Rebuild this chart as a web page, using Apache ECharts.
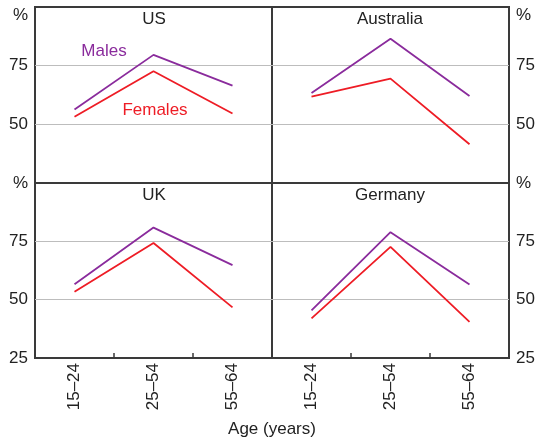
<!DOCTYPE html>
<html>
<head>
<meta charset="utf-8">
<script src="https://cdn.jsdelivr.net/npm/echarts@6/dist/echarts.min.js"></script>
<style>
  html, body { margin: 0; padding: 0; background: #fff; }
  #chart { width: 544px; height: 441px; }
</style>
</head>
<body>
<div id="chart"></div>
<script>
// age groups on the x axis
const categories = ['15–24', '25–54', '55–64']
const yTicks = [25, 50, 75, 100]

// participation rates, per cent
const usMales = [56.3, 79.6, 66.5]
const usFemales = [53.2, 72.6, 54.6]
const auMales = [63.4, 86.5, 62.1]
const auFemales = [61.8, 69.5, 41.5]
const ukMales = [56.6, 80.9, 64.8]
const ukFemales = [53.4, 74.3, 46.7]
const deMales = [45.4, 78.9, 56.5]
const deFemales = [42.0, 72.6, 40.5]

const panels = [
  { name: 'US', males: usMales, females: usFemales, side: 'left', top: true },
  { name: 'Australia', males: auMales, females: auFemales, side: 'right', top: true },
  { name: 'UK', males: ukMales, females: ukFemales, side: 'left', top: false },
  { name: 'Germany', males: deMales, females: deFemales, side: 'right', top: false },
]

const purple = '#8a2b9c'
const red = '#ee1c25'
const frame = '#3a3a3a'
const txt = '#222'
const font = 'Liberation Sans, Arial, sans-serif'
const fs = 17

const grids = [
  { left: 35, top: 7, width: 237, height: 176 },
  { left: 272, top: 7, width: 237, height: 176 },
  { left: 35, top: 183, width: 237, height: 175 },
  { left: 272, top: 183, width: 237, height: 175 },
].map((g) => ({ ...g, show: true, borderColor: frame, borderWidth: 2 }))

const xAxis = panels.map((p, i) => ({
  type: 'category',
  gridIndex: i,
  data: categories,
  boundaryGap: true,
  axisLine: { show: false },
  axisTick: { show: !p.top, inside: true, length: 5, lineStyle: { color: frame, width: 1.5 } },
  axisLabel: {
    show: !p.top,
    rotate: 90,
    margin: 5,
    fontSize: fs,
    fontFamily: font,
    color: txt,
  },
}))

const yAxis = panels.map((p, i) => ({
  type: 'value',
  gridIndex: i,
  position: p.side,
  min: yTicks[0],
  max: yTicks[yTicks.length - 1],
  interval: 25,
  axisLine: { show: false },
  axisTick: { show: false },
  splitLine: {
    show: true,
    lineStyle: { color: ['transparent', '#bdbdbd', '#bdbdbd', 'transparent'], width: 1 },
  },
  axisLabel: {
    margin: 7,
    fontSize: fs,
    fontFamily: font,
    color: txt,
    formatter: (v) => {
      if (v === 100) return p.top ? '{p|%}' : '%'
      if (v === 25 && p.top) return ''
      return String(v)
    },
    rich: { p: { padding: [16, 0, 0, 0], fontSize: fs, fontFamily: font, color: txt } },
  },
}))

const series = []
panels.forEach((p, i) => {
  series.push({
    name: 'Males', type: 'line', xAxisIndex: i, yAxisIndex: i, data: p.males,
    symbol: 'none', lineStyle: { color: purple, width: 1.8 }, z: 3,
  })
  series.push({
    name: 'Females', type: 'line', xAxisIndex: i, yAxisIndex: i, data: p.females,
    symbol: 'none', lineStyle: { color: red, width: 1.8 }, z: 3,
  })
})

const label = (text, x, y, color) => ({
  type: 'text', x, y,
  style: { text, fill: color || txt, font: fs + 'px ' + font, textAlign: 'center', textVerticalAlign: 'middle' },
})

const myChart = echarts.init(document.getElementById('chart'), null, { renderer: 'canvas' })
myChart.setOption({
  animation: false,
  grid: grids,
  xAxis,
  yAxis,
  series,
  graphic: [
    label('US', 154, 19),
    label('Australia', 390, 19),
    label('UK', 154, 195),
    label('Germany', 390, 195),
    label('Males', 104, 51, purple),
    label('Females', 155, 110, red),
    label('Age (years)', 272, 429),
  ],
})
</script>
</body>
</html>
